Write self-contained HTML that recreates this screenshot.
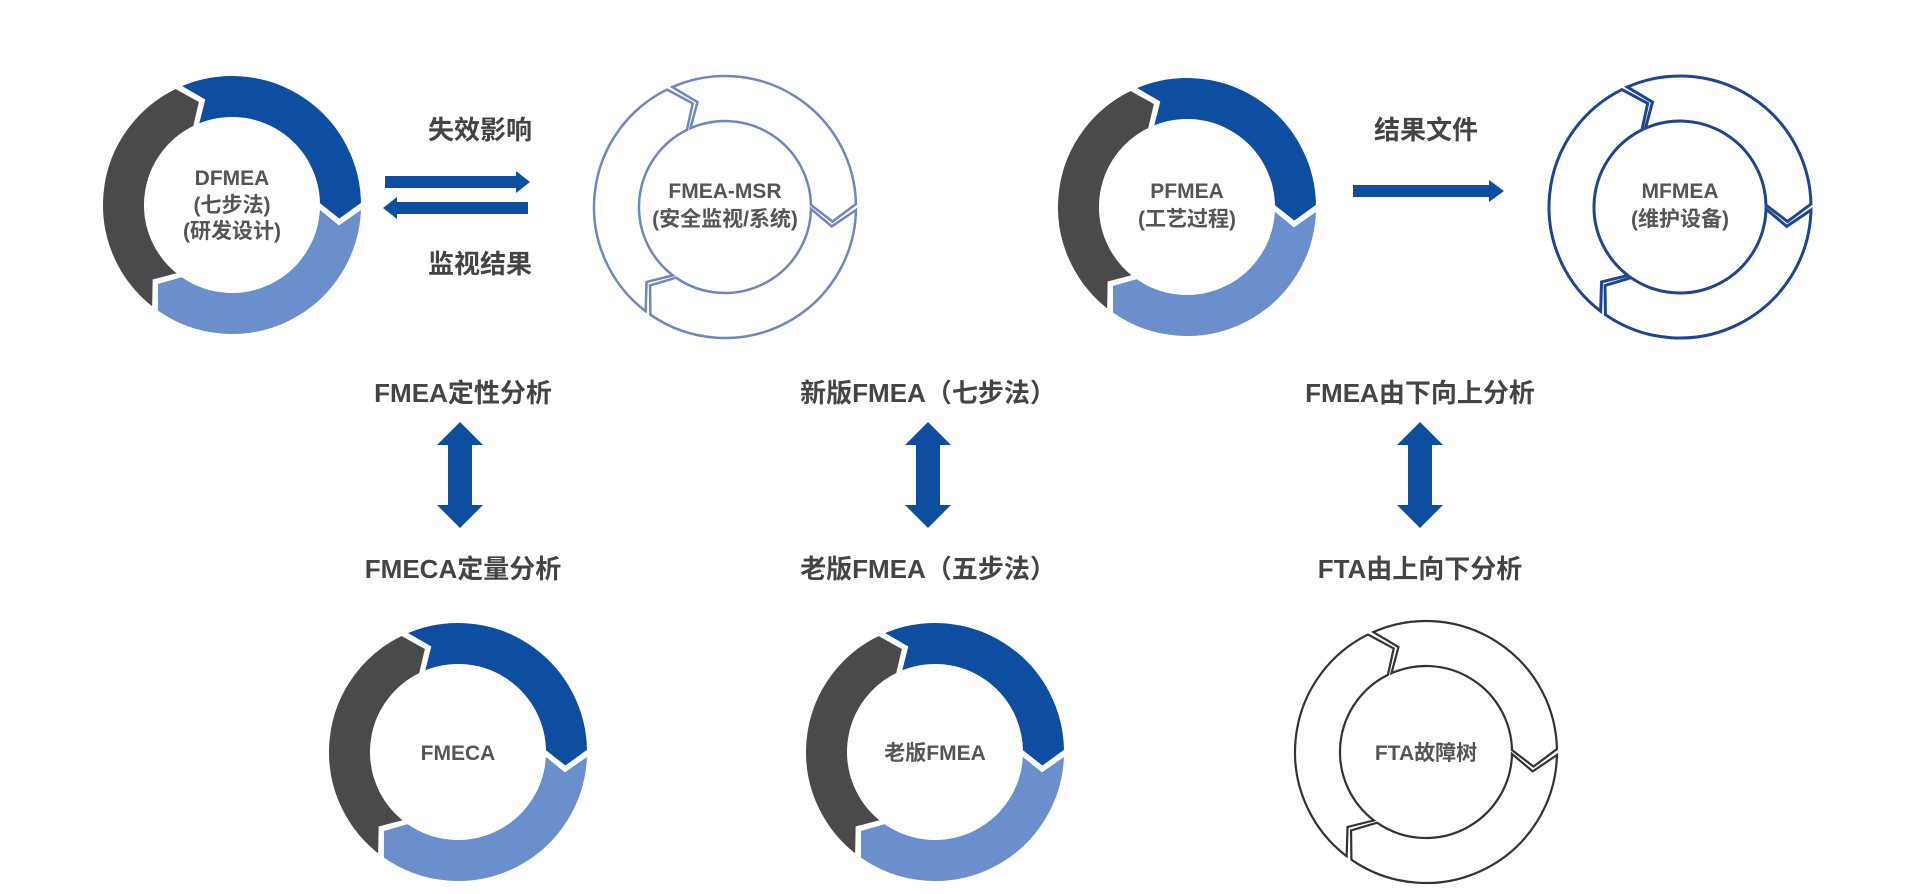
<!DOCTYPE html>
<html><head><meta charset="utf-8">
<style>
html,body{margin:0;padding:0;background:#fff;}
svg{display:block;}
text{font-family:"Liberation Sans","Noto Sans CJK SC",sans-serif;font-weight:bold;}
</style></head>
<body>
<svg id="s" width="1913" height="894" viewBox="0 0 1913 894" xmlns="http://www.w3.org/2000/svg">
<rect width="1913" height="894" fill="#fff"/>
<g id="rings"></g>
<g fill="#0d4ea0">
<polygon points="385,176 516,176 516,171 530,182 516,193 516,188 385,188"/>
<polygon points="528,202 397,202 397,197 383,208 397,219 397,214 528,214"/>
<polygon points="1353,185 1489,185 1489,180 1504,191 1489,202 1489,197 1353,197"/>
</g>
<g fill="#0d4ea0" id="varr"></g>
<g fill="#444" font-size="26" text-anchor="middle">
<text x="480" y="139">失效影响</text>
<text x="480" y="273">监视结果</text>
<text x="1426" y="139">结果文件</text>
<text x="463" y="402">FMEA定性分析</text>
<text x="463" y="578">FMECA定量分析</text>
<text x="928" y="402">新版FMEA（七步法）</text>
<text x="928" y="578">老版FMEA（五步法）</text>
<text x="1420" y="402">FMEA由下向上分析</text>
<text x="1420" y="578">FTA由上向下分析</text>
</g>
<g fill="#555" font-size="21" text-anchor="middle">
<text x="232" y="185">DFMEA</text>
<text x="232" y="212">(七步法)</text>
<text x="232" y="238">(研发设计)</text>
<text x="725" y="198">FMEA-MSR</text>
<text x="725" y="226">(安全监视/系统)</text>
<text x="1187" y="198">PFMEA</text>
<text x="1187" y="226">(工艺过程)</text>
<text x="1680" y="198">MFMEA</text>
<text x="1680" y="226">(维护设备)</text>
<text x="458" y="760">FMECA</text>
<text x="935" y="760">老版FMEA</text>
<text x="1426" y="760">FTA故障树</text>
</g>
</svg>
<script>
(function(){
var NS="http://www.w3.org/2000/svg";
var g=document.getElementById("rings");
function pt(cx,cy,rad,a){a=a*Math.PI/180;return (cx+rad*Math.sin(a)).toFixed(2)+","+(cy-rad*Math.cos(a)).toFixed(2);}
function seg(cx,cy,R,r,a0,a1,gap,d){
 var s=a0+gap,e=a1-gap,m=(R+r)/2,lg=(e-s)>180?1:0;
 return "M"+pt(cx,cy,R,s)+" A"+R+","+R+" 0 "+lg+" 1 "+pt(cx,cy,R,e)+
 " L"+pt(cx,cy,m,e+d)+" L"+pt(cx,cy,r,e)+
 " A"+r+","+r+" 0 "+lg+" 0 "+pt(cx,cy,r,s)+" L"+pt(cx,cy,m,s+d)+" Z";
}
var segs=[[335,450],[90,216],[216,335]];
function ring(cx,cy,filled,stroke,sw){
 var R=131,r=86;
 var cols=["#0d4ea0","#6a8fcc","#4a4a4a"];
 for(var i=0;i<3;i++){
  var p=document.createElementNS(NS,"path");
  p.setAttribute("d",seg(cx,cy,R,r,segs[i][0],segs[i][1],filled?0.5:1.3,9));
  if(filled){p.setAttribute("fill",cols[i]);p.setAttribute("stroke","#fff");p.setAttribute("stroke-width","4");}
  else{p.setAttribute("fill","#fff");p.setAttribute("stroke",stroke);p.setAttribute("stroke-width",sw);}
  p.setAttribute("stroke-linejoin","miter");
  g.appendChild(p);
 }
}
ring(232,205,true);
ring(725,207,false,"#6f86bf",2.5);
ring(1187,207,true);
ring(1680,207,false,"#1d4591",3);
ring(458,752,true);
ring(935,752,true);
ring(1426,752,false,"#333",2.2);
var va=document.getElementById("varr");
[460,928,1420].forEach(function(x){
 var p=document.createElementNS(NS,"polygon");
 var t=422,b=528,hw=23,sw=12,hh=23;
 p.setAttribute("points",[x+","+t,(x+hw)+","+(t+hh),(x+sw)+","+(t+hh),(x+sw)+","+(b-hh),(x+hw)+","+(b-hh),x+","+b,(x-hw)+","+(b-hh),(x-sw)+","+(b-hh),(x-sw)+","+(t+hh),(x-hw)+","+(t+hh)].join(" "));
 va.appendChild(p);
});
})();
</script>
</body></html>
